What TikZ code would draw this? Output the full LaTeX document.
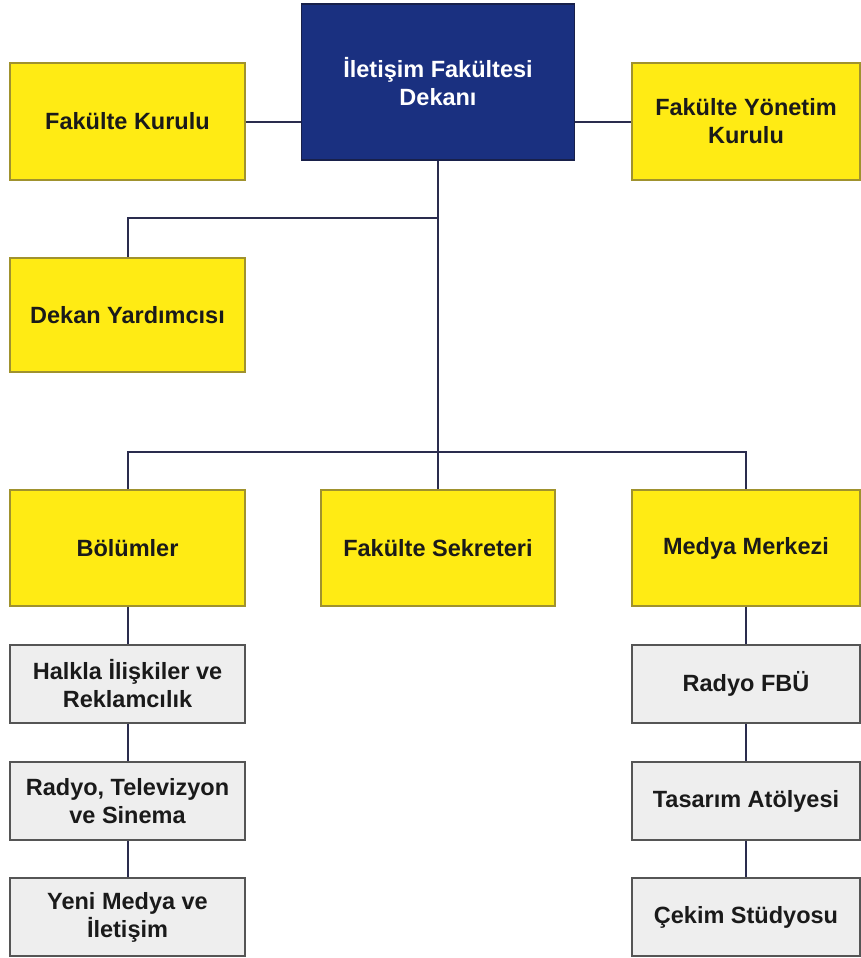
\documentclass[tikz,border=0pt]{standalone}
\usepackage{fontspec}
\setmainfont{Liberation Sans}
\definecolor{yfill}{HTML}{FFEB14}
\definecolor{ydraw}{HTML}{A0922E}
\definecolor{navy}{HTML}{1A3080}
\definecolor{navydraw}{HTML}{18204A}
\definecolor{gfill}{HTML}{EEEEEE}
\definecolor{gdraw}{HTML}{555555}
\definecolor{conn}{HTML}{2A2C4E}
\definecolor{txt}{HTML}{1A1A1A}
\begin{document}
\begin{tikzpicture}[x=1pt,y=-1pt,
  box/.style={rectangle, inner sep=0pt, align=center, line width=1.4pt,
    font=\fontsize{23.5}{28}\selectfont\bfseries, text=txt},
  ybox/.style={box, fill=yfill, draw=ydraw},
  gbox/.style={box, fill=gfill, draw=gdraw},
  dbox/.style={box, fill=navy, draw=navydraw, text=white},
  link/.style={draw=conn, line width=2pt}]
\useasboundingbox (0,0) rectangle (860,958);
\fill[white] (0,0) rectangle (860,958);

\node[dbox, minimum width=273pt, minimum height=156pt] (dean) at (438,82) {İletişim Fakültesi\\Dekanı};
\node[ybox, minimum width=235pt, minimum height=117pt] (fk) at (127.5,121.5) {Fakülte Kurulu};
\node[ybox, minimum width=228pt, minimum height=117pt] (fyk) at (746,121.5) {Fakülte Yönetim\\Kurulu};
\node[ybox, minimum width=235pt, minimum height=114pt] (dy) at (127.5,315) {Dekan Yardımcısı};

\node[ybox, minimum width=235pt, minimum height=116pt] (bol) at (127.5,548) {Bölümler};
\node[ybox, minimum width=234pt, minimum height=116pt] (fs) at (438,548) {Fakülte Sekreteri};
\node[ybox, minimum width=228pt, minimum height=116pt] (mm) at (746,548) {Medya Merkezi};

\node[gbox, minimum width=235pt, minimum height=78pt] (g1) at (127.5,684) {Halkla İlişkiler ve\\Reklamcılık};
\node[gbox, minimum width=235pt, minimum height=78pt] (g2) at (127.5,801) {Radyo, Televizyon\\ve Sinema};
\node[gbox, minimum width=235pt, minimum height=78pt] (g3) at (127.5,917) {Yeni Medya ve\\İletişim};

\node[gbox, minimum width=228pt, minimum height=78pt] (r1) at (746,684) {Radyo FBÜ};
\node[gbox, minimum width=228pt, minimum height=78pt] (r2) at (746,801) {Tasarım Atölyesi};
\node[gbox, minimum width=228pt, minimum height=78pt] (r3) at (746,917) {Çekim Stüdyosu};

\coordinate (j1) at (438,218);
\coordinate (j2) at (438,452);

\path[link] (fk.east) -- (fk.east -| dean.west);
\path[link] (fyk.west) -- (fyk.west -| dean.east);
\path[link] (dean.south) -- (j2);
\path[link] (j1) -| (dy.north);
\path[link] (bol.north) |- (j2) -| (mm.north);
\path[link] (fs.north) -- (j2);
\path[link] (bol.south) -- (g1.north);
\path[link] (g1.south) -- (g2.north);
\path[link] (g2.south) -- (g3.north);
\path[link] (mm.south) -- (r1.north);
\path[link] (r1.south) -- (r2.north);
\path[link] (r2.south) -- (r3.north);
\end{tikzpicture}
\end{document}
